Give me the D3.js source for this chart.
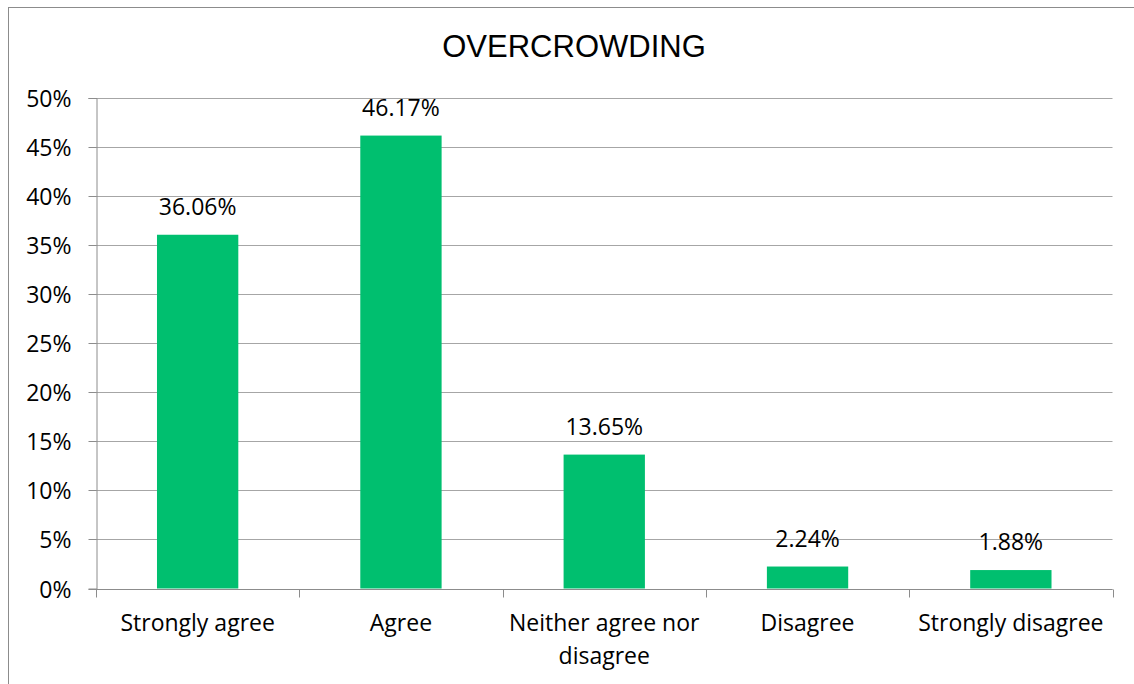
<!DOCTYPE html>
<html><head><meta charset="utf-8">
<script src="https://cdn.jsdelivr.net/npm/d3@7"></script>
<style>body{margin:0;background:#fff;} svg{display:block;}</style>
</head><body>
<svg id="chart" width="1134" height="684"></svg>
<script>
const title = "OVERCROWDING";
const categories = ["Strongly agree", "Agree", "Neither agree nor disagree", "Disagree", "Strongly disagree"];
const values = [36.06, 46.17, 13.65, 2.24, 1.88];
const yTicks = [0, 5, 10, 15, 20, 25, 30, 35, 40, 45, 50];

const svg = d3.select("#chart");
const W = 1134, H = 684;
const m = {left: 96, right: 1134 - 1112.5, top: 98, bottom: 684 - 588.5};
const font = "'Open Sans', sans-serif";
const fs = 23;

// outer border
svg.append("rect").attr("x", 8.5).attr("y", 7.5).attr("width", 1200).attr("height", 800)
  .attr("fill", "none").attr("stroke", "#8c8c8c").attr("stroke-width", 1);

const x = d3.scaleBand().domain(categories).range([m.left, W - m.right]).paddingInner(0).paddingOuter(0);
const y = d3.scaleLinear().domain([0, 50]).range([H - m.bottom, m.top]);

// gridlines
svg.append("g").selectAll("line").data(yTicks).join("line")
  .attr("x1", m.left).attr("x2", W - m.right)
  .attr("y1", d => Math.round(y(d)) + 0.5).attr("y2", d => Math.round(y(d)) + 0.5)
  .attr("stroke", "#a6a6a6").attr("stroke-width", 1);

// y axis
const yAxis = svg.append("g").attr("transform", `translate(${m.left + 0.5},0)`)
  .call(d3.axisLeft(y).tickValues(yTicks).tickFormat(d => d + "%").tickSize(8).tickPadding(17));
yAxis.select(".domain").attr("stroke", "#8c8c8c");
yAxis.selectAll(".tick line").attr("stroke", "#8c8c8c");
yAxis.selectAll(".tick").attr("transform", d => `translate(0,${Math.round(y(d)) + 0.5})`);
yAxis.selectAll("text").attr("font-family", font).attr("font-size", fs).attr("fill", "#000").attr("dy", "0.36em");

// x axis
const xAxis = svg.append("g").attr("transform", `translate(0,${Math.round(y(0)) + 0.5})`);
xAxis.append("line").attr("x1", m.left).attr("x2", W - m.right).attr("stroke", "#8c8c8c");
const bounds = categories.map(c => x(c)).concat([W - m.right]);
xAxis.selectAll("line.tk").data(bounds).join("line").attr("class", "tk")
  .attr("x1", d => Math.round(d) + 0.5).attr("x2", d => Math.round(d) + 0.5)
  .attr("y1", 0).attr("y2", 8).attr("stroke", "#8c8c8c");

// category labels with wrapping
const maxW = x.bandwidth() - 6;
const tmp = svg.append("text").attr("font-family", font).attr("font-size", fs);
function wrap(s) {
  const words = s.split(" "); const lines = []; let cur = "";
  words.forEach(w => {
    const t = cur ? cur + " " + w : w;
    tmp.text(t);
    if (tmp.node().getComputedTextLength() > maxW && cur) { lines.push(cur); cur = w; } else cur = t;
  });
  lines.push(cur); return lines;
}
categories.forEach(c => {
  const lines = wrap(c);
  const t = svg.append("text").attr("text-anchor", "middle").attr("font-family", font).attr("font-size", fs).attr("fill", "#000");
  lines.forEach((l, i) => t.append("tspan").attr("x", x(c) + x.bandwidth() / 2).attr("y", 631 + i * 33).text(l));
});
tmp.remove();

// bars
const bw = x.bandwidth() * 0.4;
svg.append("g").selectAll("rect").data(values).join("rect")
  .attr("x", (d, i) => x(categories[i]) + (x.bandwidth() - bw) / 2)
  .attr("width", bw)
  .attr("y", d => y(d)).attr("height", d => y(0) - y(d))
  .attr("fill", "#00BF6F");

// value labels
svg.append("g").selectAll("text").data(values).join("text")
  .attr("x", (d, i) => x(categories[i]) + x.bandwidth() / 2)
  .attr("y", d => y(d) - 20)
  .attr("text-anchor", "middle").attr("font-family", font).attr("font-size", fs).attr("fill", "#000")
  .text(d => d.toFixed(2) + "%");

// title
svg.append("text").attr("x", 574).attr("y", 57).attr("text-anchor", "middle")
  .attr("font-family", "'Liberation Sans', Arial, sans-serif").attr("font-size", 31).attr("fill", "#000").text(title);
</script>
</body></html>
